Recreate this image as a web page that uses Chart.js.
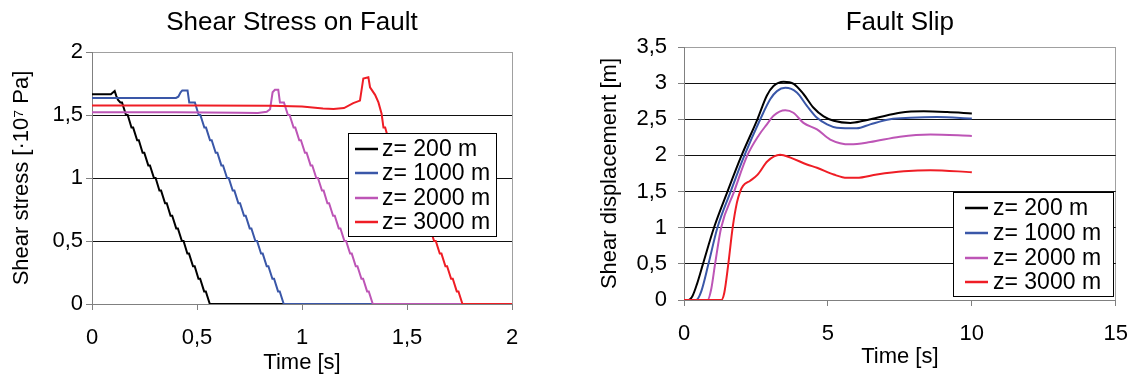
<!DOCTYPE html>
<html>
<head>
<meta charset="utf-8">
<script src="https://cdn.jsdelivr.net/npm/chart.js@4.4.1/dist/chart.umd.min.js"></script>
<style>
html,body{margin:0;padding:0;background:#fff;width:1131px;height:378px;overflow:hidden;position:relative}
.wrap{position:absolute;top:0;height:378px}
#w1{left:0;width:584px}
#w2{left:584px;width:559px}
</style>
</head>
<body>
<div class="wrap" id="w1"><canvas id="stressChart"></canvas></div>
<div class="wrap" id="w2"><canvas id="slipChart"></canvas></div>
<script>
// --- Shear stress on fault [1e7 Pa] vs time [s]
var stT200=[0,0.09,0.108,0.116,0.124,0.135,0.143,0.162,0.170,0.188,0.196,0.215,0.223,0.241,0.249,0.268,0.276,0.295,0.303,0.321,0.329,0.348,0.356,0.374,0.382,0.401,0.409,0.428,0.436,0.454,0.462,0.481,0.489,0.507,0.515,0.534,0.542,0.561,2];
var stS200=[1.665,1.665,1.69,1.65,1.62,1.6,1.6,1.5,1.5,1.4,1.4,1.3,1.3,1.2,1.2,1.1,1.1,1.0,1.0,0.9,0.9,0.8,0.8,0.7,0.7,0.6,0.6,0.5,0.5,0.4,0.4,0.3,0.3,0.2,0.2,0.1,0.1,0,0];

var stT1000=[0,0.2,0.40,0.411,0.422,0.43,0.455,0.463,0.49,0.508,0.516,0.535,0.543,0.562,0.570,0.589,0.597,0.616,0.624,0.643,0.651,0.670,0.678,0.697,0.705,0.724,0.732,0.751,0.759,0.778,0.786,0.805,0.813,0.832,0.840,0.859,0.867,0.886,0.894,0.913,2];
var stS1000=[1.635,1.635,1.635,1.645,1.68,1.695,1.695,1.6,1.6,1.5,1.5,1.4,1.4,1.3,1.3,1.2,1.2,1.1,1.1,1.0,1.0,0.9,0.9,0.8,0.8,0.7,0.7,0.6,0.6,0.5,0.5,0.4,0.4,0.3,0.3,0.2,0.2,0.1,0.1,0,0];

var stT2000=[0,0.4,0.7,0.79,0.832,0.848,0.86,0.871,0.887,0.895,0.914,0.933,0.941,0.960,0.968,0.987,0.995,1.014,1.022,1.041,1.049,1.068,1.076,1.095,1.103,1.121,1.129,1.148,1.156,1.175,1.183,1.202,1.210,1.229,1.237,1.256,1.264,1.283,1.291,1.310,1.318,1.337,2];
var stS2000=[1.522,1.522,1.518,1.515,1.525,1.546,1.68,1.70,1.70,1.6,1.6,1.5,1.5,1.4,1.4,1.3,1.3,1.2,1.2,1.1,1.1,1.0,1.0,0.9,0.9,0.8,0.8,0.7,0.7,0.6,0.6,0.5,0.5,0.4,0.4,0.3,0.3,0.2,0.2,0.1,0.1,0,0];

var stT3000=[0,0.5,0.85,1.0,1.1,1.15,1.2,1.244,1.276,1.292,1.316,1.324,1.348,1.364,1.379,1.388,1.396,1.413,1.421,1.440,1.448,1.467,1.475,1.494,1.502,1.521,1.529,1.548,1.556,1.575,1.583,1.602,1.610,1.629,1.637,1.656,1.664,1.683,1.691,1.710,1.718,1.737,1.745,1.764,2];
var stS3000=[1.575,1.575,1.574,1.567,1.552,1.548,1.555,1.594,1.614,1.79,1.80,1.72,1.66,1.6,1.51,1.4,1.4,1.3,1.3,1.2,1.2,1.1,1.1,1.0,1.0,0.9,0.9,0.8,0.8,0.7,0.7,0.6,0.6,0.5,0.5,0.4,0.4,0.3,0.3,0.2,0.2,0.1,0.1,0,0];

// --- Fault slip [m] vs time [s]
var slT200=[0,0.15,0.3,0.45,0.66,1.04,1.51,2.0,2.55,2.88,3.11,3.46,3.81,4.15,4.5,4.85,5.2,5.78,6.24,6.7,7.5,8.33,9.14,10];
var slD200=[0,0,0.06,0.22,0.5,1.0,1.5,2.0,2.5,2.83,2.96,3.02,2.99,2.85,2.66,2.54,2.48,2.45,2.48,2.52,2.59,2.61,2.60,2.58];

var slT1000=[0,0.42,0.6,0.85,1.16,1.62,2.1,2.65,3.0,3.23,3.52,3.92,4.27,4.62,4.97,5.31,6.0,6.47,7.16,7.86,8.79,10];
var slD1000=[0,0,0.12,0.5,1.0,1.5,2.0,2.5,2.78,2.89,2.935,2.87,2.685,2.52,2.43,2.384,2.375,2.43,2.5,2.52,2.53,2.51];

var slT2000=[0,0.82,0.95,1.08,1.29,1.74,2.2,2.6,2.88,3.11,3.52,3.8,4.15,4.62,5.08,5.78,6.47,7.5,8.56,10];
var slD2000=[0,0,0.16,0.5,1.0,1.5,2.0,2.28,2.43,2.55,2.625,2.59,2.45,2.36,2.22,2.153,2.185,2.26,2.29,2.27];

var slT3000=[0,1.3,1.4,1.54,1.69,1.84,1.95,2.05,2.3,2.55,2.9,3.34,3.7,4.27,4.62,5.2,5.66,6.0,6.7,7.64,8.56,10];
var slD3000=[0,0,0.1,0.5,1.0,1.35,1.5,1.58,1.65,1.73,1.92,2.01,1.97,1.875,1.83,1.736,1.69,1.69,1.736,1.78,1.796,1.768];

var depthLabels=['z= 200 m','z= 1000 m','z= 2000 m','z= 3000 m'];
var depthColors=['#000000','#3a57a8','#bd55b6','#ef1d25'];

function pts(t,v){return t.map(function(x,i){return{x:x,y:v[i]}})}
function comma(v){return String(v).replace('.',',')}

// legend box drawn inside the plot, Excel style
var boxLegend={
    id:'boxLegend',
    afterDraw:function(chart,args,o){
        var ctx=chart.ctx,a=chart.chartArea,x=a.left+o.x,y=a.top+o.y;
        ctx.save();
        ctx.fillStyle='#fff';ctx.fillRect(x,y,o.w,o.h);
        ctx.strokeStyle='#000';ctx.lineWidth=1;ctx.strokeRect(x+0.5,y+0.5,o.w,o.h);
        ctx.font=o.size+"px 'Liberation Sans', Arial, sans-serif";ctx.textBaseline='middle';ctx.textAlign='left';
        chart.data.datasets.forEach(function(ds,i){
            var ly=Math.round(y+o.first+i*o.gap);
            ctx.strokeStyle=ds.borderColor;ctx.lineWidth=2.5;
            ctx.beginPath();ctx.moveTo(x+o.lx,ly);ctx.lineTo(x+o.lx+o.lw,ly);ctx.stroke();
            ctx.fillStyle='#000';ctx.fillText(ds.label,x+o.tx,ly+1);
        });
        ctx.restore();
    }
};

Chart.defaults.font.family="'Liberation Sans', Arial, sans-serif";
Chart.defaults.color='#000';

function sets(list,tension){
    return list.map(function(d,i){
        return {label:depthLabels[i],data:d,borderColor:depthColors[i],backgroundColor:depthColors[i],
            borderWidth:2,pointRadius:0,tension:tension,cubicInterpolationMode:tension?'monotone':'default',order:3-i};
    });
}

function axisX(max,step,h,tpad,ttl){
    return {type:'linear',min:0,max:max,
        ticks:{stepSize:step,padding:15,maxRotation:0,font:{size:22},callback:comma},
        grid:{tickLength:6,tickColor:'#808080',color:function(c){return c.tick&&c.tick.value===max?'#a0a0a0':'transparent'}},
        border:{color:'#808080'},
        title:{display:true,text:ttl,font:{size:22},padding:tpad},
        afterFit:function(s){s.height=h}};
}
function axisY(max,w,pad,tpad,ttl){
    return {min:0,max:max,
        ticks:{stepSize:0.5,padding:pad,font:{size:22},callback:comma},
        grid:{tickLength:6,tickColor:'#808080',color:function(c){return c.tick&&c.tick.value===max?'#a0a0a0':'#111'}},
        border:{color:'#808080'},
        title:{display:true,text:ttl,font:{size:22},padding:tpad},
        afterFit:function(s){s.width=w}};
}

new Chart(document.getElementById('stressChart'),{
    type:'line',
    data:{datasets:sets([pts(stT200,stS200),pts(stT1000,stS1000),pts(stT2000,stS2000),pts(stT3000,stS3000)],0)},
    options:{
        responsive:true,maintainAspectRatio:false,animation:false,
        layout:{padding:0},
        plugins:{
            legend:{display:false},tooltip:{enabled:false},
            title:{display:true,text:'Shear Stress on Fault',font:{size:26,weight:'normal'},color:'#000',padding:{top:7,bottom:13.8}},
            boxLegend:{x:256,y:81,w:148,h:103,first:16,gap:24.3,lx:7,lw:23,tx:34,size:23}
        },
        scales:{
            x:axisX(2,0.5,74,2,'Time [s]'),
            y:axisY(2,92,3,9,'Shear stress [\u00b710\u2077 Pa]'),
            // empty right margin so the title centres over the whole panel
            yR:{position:'right',grid:{display:false},ticks:{display:false},border:{display:false},afterFit:function(s){s.width=72}}
        }
    },
    plugins:[boxLegend]
});

new Chart(document.getElementById('slipChart'),{
    type:'line',
    data:{datasets:sets([pts(slT200,slD200),pts(slT1000,slD1000),pts(slT2000,slD2000),pts(slT3000,slD3000)],0.4)},
    options:{
        responsive:true,maintainAspectRatio:false,animation:false,
        layout:{padding:0},
        plugins:{
            legend:{display:false},tooltip:{enabled:false},
            title:{display:true,text:'Fault Slip',fullSize:false,font:{size:26,weight:'normal'},color:'#000',padding:{top:7,bottom:8.8}},
            boxLegend:{x:269,y:145,w:160,h:104,first:15.7,gap:24.9,lx:12,lw:23,tx:40,size:23}
        },
        scales:{x:axisX(15,5,78,8,'Time [s]'),y:axisY(3.5,100,11,13,'Shear displacement [m]')}
    },
    plugins:[boxLegend]
});
</script>
</body>
</html>
